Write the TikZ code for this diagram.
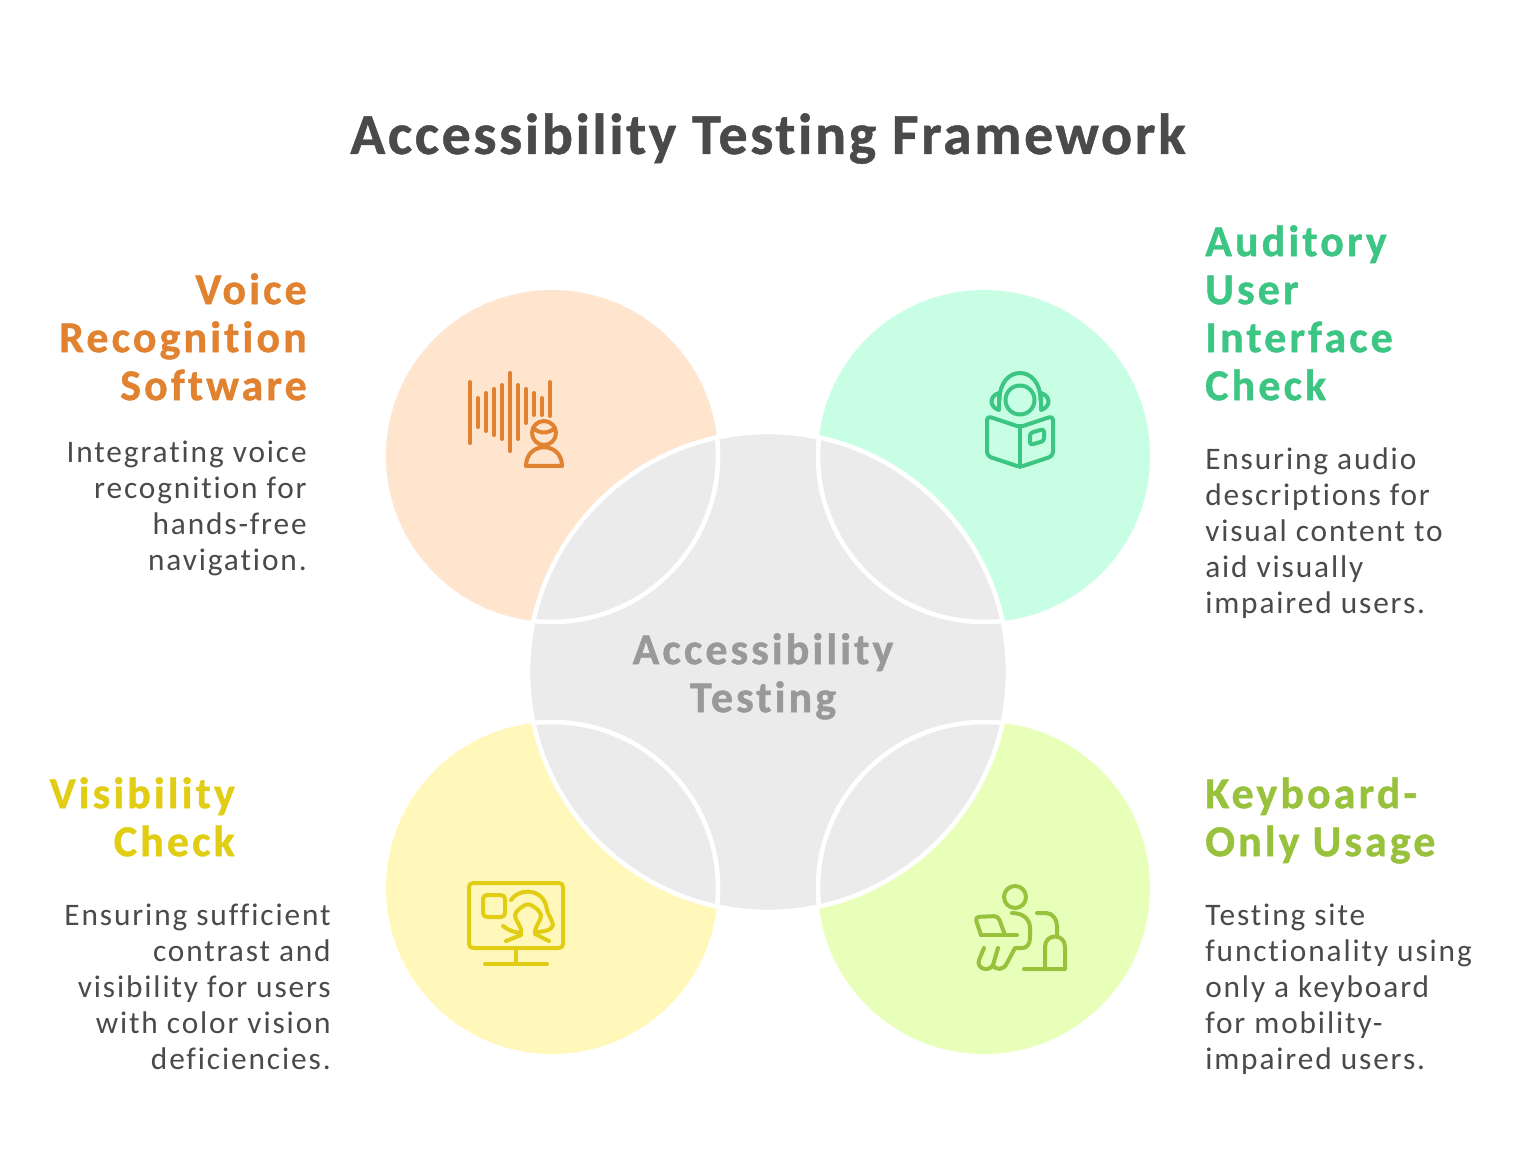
\documentclass[tikz,border=0pt]{standalone}
\usepackage{fontspec}
\usetikzlibrary{positioning}
\newfontfamily\bodyfont[LetterSpace=6,Ligatures=NoCommon]{Carlito}
\newfontfamily\headfont[LetterSpace=7,Ligatures=NoCommon,FakeBold=1]{Carlito Bold}
\newfontfamily\titlefont[LetterSpace=4.5,Ligatures=NoCommon,FakeBold=0.8]{Carlito Bold}
\definecolor{orangefill}{HTML}{FFE4CE}
\definecolor{greenfill}{HTML}{C8FFE4}
\definecolor{yellowfill}{HTML}{FFF8BA}
\definecolor{limefill}{HTML}{E8FFB9}
\definecolor{hubfill}{HTML}{EBEBEB}
\definecolor{orangeline}{HTML}{E08230}
\definecolor{greenline}{HTML}{3CC583}
\definecolor{yellowline}{HTML}{E0CD14}
\definecolor{limeline}{HTML}{98C23C}
\definecolor{inktext}{HTML}{4A4A4A}
\definecolor{hubtext}{HTML}{999999}
\begin{document}
\begin{tikzpicture}[
			x=0.75pt,
			y=-0.75pt,
			petal/.style={
				circle,
				inner sep=0pt,
				minimum size=249pt
			},
			ring/.style={
				circle,
				draw=white,
				line width=3.4pt,
				inner sep=0pt,
				minimum size=249pt
			},
			hub/.style={
				circle,
				fill=hubfill,
				draw=white,
				line width=3.4pt,
				inner sep=0pt,
				minimum size=360pt
			},
			heading/.style={
				inner sep=0pt,
				font=\headfont\fontsize{33}{36}\selectfont
			},
			detail/.style={
				inner sep=0pt,
				text=inktext,
				font=\bodyfont\fontsize{23.5}{27}\selectfont
			},
			icon/.style={
				line width=3pt,
				line cap=round,
				line join=round
			}
			]
			\useasboundingbox (0,0) rectangle (1536,1176);
			
			% Circles
			\node[petal,fill=orangefill] (voice) at (552,456) {};
			\node[petal,fill=greenfill] (auditory) at (984,456) {};
			\node[petal,fill=yellowfill] (visibility) at (552,888) {};
			\node[petal,fill=limefill] (keyboard) at (984,888) {};
			\node[hub] (center) at (768,672) {};
			\begin{scope}
				\clip (768,672) circle[radius=238];
				\node[ring] at (voice) {};
				\node[ring] at (auditory) {};
				\node[ring] at (visibility) {};
				\node[ring] at (keyboard) {};
			\end{scope}
			
			% Title and center
			\node[inner sep=0pt,text=inktext,font=\titlefont\fontsize{43.5}{48}\selectfont,anchor=base] (title) at (768,154) {Accessibility Testing Framework};
			\node[heading,text=hubtext,align=center,anchor=north] (hublabel) at (763,633) {Accessibility\\Testing};
			
			% Left side
			\node[heading,text=orangeline,align=right,anchor=north east] (voicehead) at (307,273) {Voice\\Recognition\\Software};
			\node[detail,below=30pt of voicehead.south east,anchor=north east,align=right] (voicetext) {Integrating voice\\recognition for\\hands-free\\navigation.};
			\node[heading,text=yellowline,align=right,anchor=north east] (visibilityhead) at (235,777) {Visibility\\Check};
			\node[detail,below=35pt of visibilityhead.south east,xshift=72pt,anchor=north east,align=right] (visibilitytext) {Ensuring sufficient\\contrast and\\visibility for users\\with color vision\\deficiencies.};
			
			% Right side
			\node[heading,text=greenline,align=left,anchor=north west] (auditoryhead) at (1205,225) {Auditory\\User\\Interface\\Check};
			\node[detail,below=35pt of auditoryhead.south west,anchor=north west,align=left] (auditorytext) {Ensuring audio\\descriptions for\\visual content to\\aid visually\\impaired users.};
			\node[heading,text=limeline,align=left,anchor=north west] (keyboardhead) at (1205,777) {Keyboard-\\Only Usage};
			\node[detail,below=30pt of keyboardhead.south west,anchor=north west,align=left] (keyboardtext) {Testing site\\functionality using\\only a keyboard\\for mobility-\\impaired users.};
			
			% Icons
			\begin{scope}[icon,draw=orangeline]
				\foreach \xbar/\ytop/\ybot in {470/382/443,478/398/427,486/393/431,494/389/435,502/385/439,510/373/451,518/385/439,526/389/423,534/393/415,542/398/415,550/382/416}
				\draw (\xbar,\ytop) -- (\xbar,\ybot);
				\draw (544,433) circle[radius=12];
				\draw (533,428) .. controls (540,434) and (548,434) .. (555,428);
				\draw (526,466) .. controls (526,441) and (562,441) .. (562,466) -- cycle;
			\end{scope}
			\begin{scope}[icon,draw=greenline]
				\draw (1020,400) circle[radius=14.5];
				\draw (999.5,400) .. controls (999.5,364) and (1040.5,364) .. (1040.5,400);
				\draw (999,393) .. controls (989,396) and (989,407) .. (999,410) -- cycle;
				\draw (1041,393) .. controls (1051,396) and (1051,407) .. (1041,410) -- cycle;
				\draw[rounded corners=3pt] (1020,427) -- (987,416) -- (987,456) -- (1020,467) -- (1053,456) -- (1053,416) -- cycle;
				\draw (1020,427) -- (1020,467);
				\draw[rounded corners=2pt] (1030,433) -- (1044,429) -- (1044,441) -- (1030,445) -- cycle;
			\end{scope}
			\begin{scope}[icon,draw=yellowline]
				\draw[rounded corners=3pt] (469,883) rectangle (563,948);
				\draw (516,948) -- (516,964);
				\draw (485,964) -- (547,964);
				\draw[rounded corners=3pt] (483,895) rectangle (505,917);
				\draw (511,900) .. controls (518,889) and (540,887) .. (546,905) .. controls (548,917) and (552,918) .. (553,925) .. controls (552,930) and (544,932) .. (535,932);
				\draw[rounded corners=3pt] (521,933) .. controls (522,925) and (514,920) .. (516,911) -- (528,903) -- (540,911) .. controls (542,920) and (535,925) .. (535,933);
				\draw (503,926) .. controls (508,930) and (513,932) .. (520,933);
				\draw (506,941) -- (521,935);
				\draw (549,941) -- (535,934);
			\end{scope}
			\begin{scope}[icon,draw=limeline]
				\draw (1015,897) circle[radius=11];
				\draw (1012,913) .. controls (1024,913) and (1030,920) .. (1030,928) -- (1030,938) .. controls (1030,945) and (1026,948) .. (1022,948) -- (1015,948) -- (1007,963) .. controls (1004,970) and (996,971) .. (993,965) -- (998,948);
				\draw (984,948) -- (979,960) .. controls (976,968) and (988,973) .. (993,965);
				\draw[rounded corners=3pt] (981,935) -- (975,917) -- (998,916) -- (1005,935);
				\draw (981,935) -- (1017,935);
				\draw (1037,913) -- (1046,913) .. controls (1053,913) and (1057,920) .. (1057,926) -- (1057,936);
				\draw (1045,969) -- (1045,947) .. controls (1045,933) and (1065,933) .. (1065,947) -- (1065,969) -- (1024,969);
			\end{scope}
			
		\end{tikzpicture}
\end{document}
